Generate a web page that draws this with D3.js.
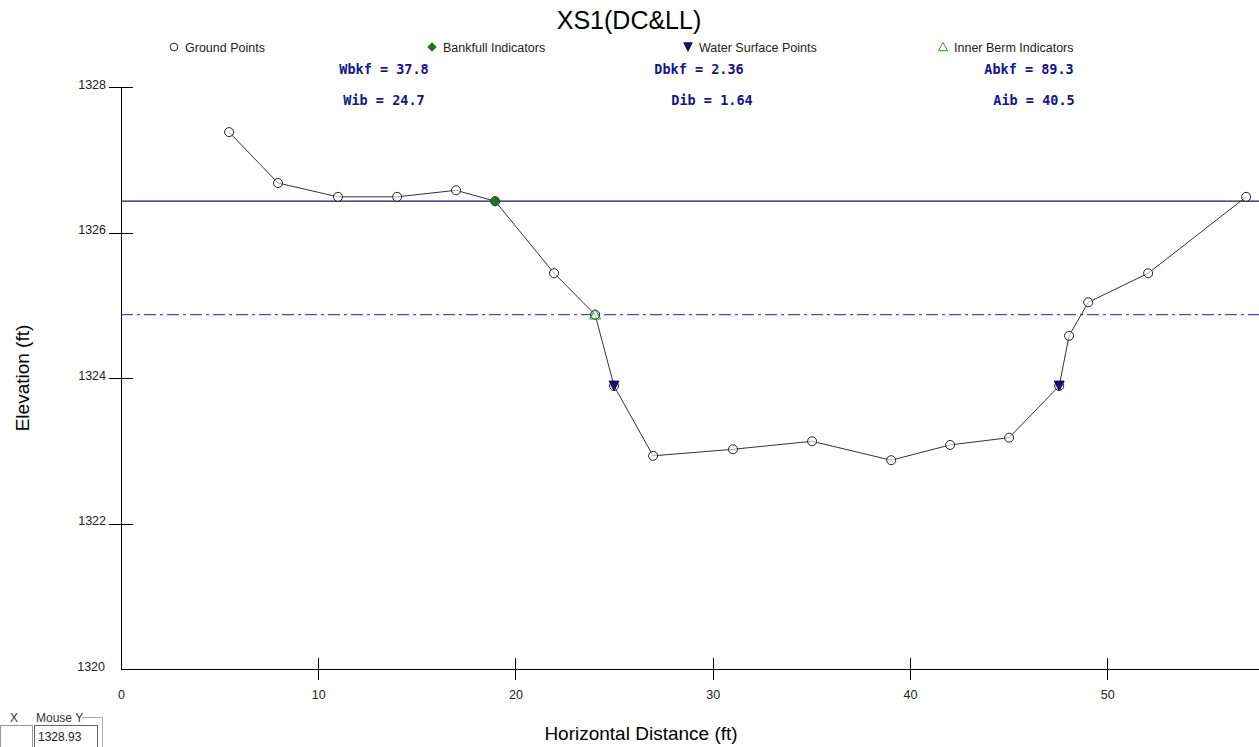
<!DOCTYPE html>
<meta charset="utf-8">
<style>
    body { margin: 0; background: #fff; }
    svg { display: block; font-family: Arial, "Liberation Sans", sans-serif; }
    .axis path, .axis line { stroke: #000; shape-rendering: crispEdges; }
    .axis text { font-size: 12.5px; fill: #222; }
    .stat { font: bold 13.5px "DejaVu Sans Mono", "Liberation Mono", monospace; fill: #14148a; text-anchor: middle; }
    .legend { font-size: 12.5px; fill: #222; }
</style>
<svg width="1259" height="747"></svg>
<script src="https://d3js.org/d3.v7.min.js"></script>
<script>

    // ground survey points along the cross section
    var station = [5.48, 7.96, 11.0, 14.0, 16.99, 18.97, 21.96, 24.04, 25.0, 26.98, 31.03, 35.04, 39.05, 42.04, 45.03, 47.57, 48.07, 49.04, 52.08, 57.05];
    var elevation = [1327.38, 1326.68, 1326.49, 1326.49, 1326.58, 1326.43, 1325.44, 1324.87, 1323.89, 1322.93, 1323.02, 1323.13, 1322.87, 1323.08, 1323.18, 1323.89, 1324.58, 1325.04, 1325.44, 1326.49];

    var bankfull = [[18.97, 1326.43]];
    var waterSurface = [[25.0, 1323.89], [47.57, 1323.89]];
    var innerBerm = [[24.04, 1324.87]];

    var bankfullElev = 1326.43;
    var bermElev = 1324.87;

    var xTicks = [0, 10, 20, 30, 40, 50];
    var yTicks = [1320, 1322, 1324, 1326, 1328];

    var stats = [
        {label: "Wbkf = 37.8", x: 384, y: 74},
        {label: "Wib = 24.7", x: 384, y: 105},
        {label: "Dbkf = 2.36", x: 699, y: 74},
        {label: "Dib = 1.64", x: 712, y: 105},
        {label: "Abkf = 89.3", x: 1029, y: 74},
        {label: "Aib = 40.5", x: 1034, y: 105}
    ];

    var svg = d3.select("svg");
    var plotLeft = 121, plotRight = 1259, plotTop = 87, plotBottom = 669;

    var x = d3.scaleLinear().domain([0, 57.7]).range([plotLeft, plotRight]);
    var y = d3.scaleLinear().domain([1320, 1328]).range([plotBottom, plotTop]);

    // title
    svg.append("text")
        .attr("x", 629).attr("y", 29)
        .attr("text-anchor", "middle")
        .style("font-size", "25px")
        .text("XS1(DC&LL)");

    // legend
    var legend = svg.append("g").attr("class", "legend");
    var legItems = [
        {x: 174, label: "Ground Points", type: "ground"},
        {x: 432, label: "Bankfull Indicators", type: "bankfull"},
        {x: 688, label: "Water Surface Points", type: "water"},
        {x: 943, label: "Inner Berm Indicators", type: "berm"}
    ];
    legItems.forEach(function (d) {
        var g = legend.append("g").attr("transform", "translate(" + d.x + ",47)");
        drawMarker(g, d.type, 0.85);
        g.append("text").attr("x", 11).attr("y", 4.5).text(d.label);
    });

    svg.selectAll(".stat")
        .data(stats)
        .enter().append("text")
        .attr("class", "stat")
        .attr("x", function (d) { return d.x; })
        .attr("y", function (d) { return d.y; })
        .text(function (d) { return d.label; });

    // axes with crossing ticks
    var yAxis = svg.append("g").attr("class", "axis")
        .attr("transform", "translate(" + plotLeft + ",0)")
        .call(d3.axisLeft(y).tickValues(yTicks).tickFormat(d3.format("d")).tickSize(12).tickPadding(3));
    yAxis.select(".domain").remove();
    yAxis.selectAll(".tick line").attr("x2", 12).attr("x1", -12);
    yAxis.selectAll(".tick").filter(function (d) { return d === 1320; }).select("line").remove();
    yAxis.selectAll(".tick").filter(function (d) { return d === 1320; }).select("text").attr("x", -16);
    yAxis.selectAll(".tick text").attr("dy", "0.1em");
    yAxis.append("line").attr("x1", 0).attr("x2", 0).attr("y1", plotTop).attr("y2", plotBottom).attr("stroke", "#000");

    var xAxis = svg.append("g").attr("class", "axis")
        .attr("transform", "translate(0," + plotBottom + ")")
        .call(d3.axisBottom(x).tickValues(xTicks).tickSize(11).tickPadding(10));
    xAxis.select(".domain").remove();
    xAxis.selectAll(".tick line").attr("y1", -11).attr("y2", 11);
    xAxis.selectAll(".tick").filter(function (d) { return d === 0; }).select("line").remove();
    xAxis.append("line").attr("x1", plotLeft).attr("x2", plotRight).attr("y1", 0).attr("y2", 0).attr("stroke", "#000");

    svg.append("text")
        .attr("transform", "translate(29," + ((plotTop + plotBottom) / 2) + ") rotate(-90)")
        .attr("text-anchor", "middle")
        .style("font-size", "19px")
        .text("Elevation (ft)");

    svg.append("text")
        .attr("x", 641).attr("y", 740)
        .attr("text-anchor", "middle")
        .style("font-size", "19px")
        .text("Horizontal Distance (ft)");

    // bankfull and inner berm lines
    svg.append("line")
        .attr("x1", plotLeft).attr("x2", plotRight)
        .attr("y1", y(bankfullElev)).attr("y2", y(bankfullElev))
        .attr("stroke", "#14146e").attr("stroke-width", 1.3);

    svg.append("line")
        .attr("x1", plotLeft).attr("x2", plotRight)
        .attr("y1", y(bermElev)).attr("y2", y(bermElev))
        .attr("stroke", "#4848cc").attr("stroke-width", 1.2)
        .attr("stroke-dasharray", "12,4,3,4");

    // ground profile
    var pts = station.map(function (s, i) { return [s, elevation[i]]; });
    var line = d3.line().x(function (d) { return x(d[0]); }).y(function (d) { return y(d[1]); });

    svg.append("path")
        .datum(pts)
        .attr("d", line)
        .attr("fill", "none")
        .attr("stroke", "#333")
        .attr("stroke-width", 1);

    pts.forEach(function (d) {
        var g = svg.append("g").attr("transform", "translate(" + x(d[0]) + "," + y(d[1]) + ")");
        drawMarker(g, "ground", 1);
    });
    bankfull.forEach(function (d) {
        var g = svg.append("g").attr("transform", "translate(" + x(d[0]) + "," + y(d[1]) + ")");
        drawMarker(g, "bankfull", 1);
    });
    innerBerm.forEach(function (d) {
        var g = svg.append("g").attr("transform", "translate(" + x(d[0]) + "," + y(d[1]) + ")");
        drawMarker(g, "berm", 1);
    });
    waterSurface.forEach(function (d) {
        var g = svg.append("g").attr("transform", "translate(" + x(d[0]) + "," + y(d[1]) + ")");
        drawMarker(g, "water", 1);
    });

    function drawMarker(g, type, k) {
        if (type === "ground") {
            g.append("circle").attr("r", 4.5 * k).attr("fill", "#fff").attr("fill-opacity", 0.6)
                .attr("stroke", "#222").attr("stroke-width", 1);
        } else if (type === "bankfull") {
            var s = 5 * k;
            g.append("path").attr("d", "M0," + (-s) + "L" + s + ",0L0," + s + "L" + (-s) + ",0Z")
                .attr("fill", "#1a7a1a").attr("stroke", "#0d4d0d").attr("stroke-width", 0.8);
        } else if (type === "water") {
            var w = 5 * k;
            g.append("path").attr("d", "M" + (-w) + "," + (-w) + "L" + w + "," + (-w) + "L0," + w + "Z")
                .attr("fill", "#10107a").attr("stroke", "#000040").attr("stroke-width", 0.8);
        } else if (type === "berm") {
            var b = 5.5 * k;
            g.append("path").attr("d", "M0," + (-b) + "L" + b + "," + (b * 0.8) + "L" + (-b) + "," + (b * 0.8) + "Z")
                .attr("fill", "none").attr("stroke", "#2ca02c").attr("stroke-width", 1);
        }
    }

    // mouse readout widget, bottom left
    var wgt = svg.append("g").style("font-size", "12px");
    wgt.append("text").attr("x", 10).attr("y", 722).attr("fill", "#333").text("X");
    wgt.append("text").attr("x", 36).attr("y", 722).attr("fill", "#333").text("Mouse Y");
    wgt.append("path").attr("d", "M82,717.5H102.5V747").attr("fill", "none").attr("stroke", "#aaa");
    wgt.append("rect").attr("x", 0.5).attr("y", 725.5).attr("width", 32).attr("height", 22)
        .attr("fill", "#fff").attr("stroke", "#999");
    wgt.append("rect").attr("x", 34.5).attr("y", 725.5).attr("width", 63).attr("height", 22)
        .attr("fill", "#fff").attr("stroke", "#666");
    wgt.append("text").attr("x", 38).attr("y", 741).attr("fill", "#222").text("1328.93");

</script>
